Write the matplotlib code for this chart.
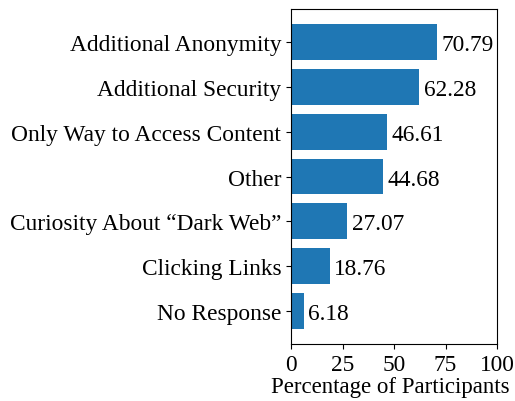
import matplotlib
matplotlib.use("Agg")
import matplotlib.pyplot as plt

plt.rcParams['font.family'] = ['Liberation Serif', 'DejaVu Serif']
plt.rcParams['font.size'] = 16.8

reasons = ["Additional Anonymity", "Additional Security", "Only Way to Access Content",
           "Other", "Curiosity About \u201cDark Web\u201d", "Clicking Links", "No Response"]
percent = [70.79, 62.28, 46.61, 44.68, 27.07, 18.76, 6.18]
xticks = [0, 25, 50, 75, 100]

fig = plt.figure(figsize=(5.15, 4.02), dpi=100)
ax = fig.add_axes([291/515, 1-345/402, 206/515, 335/402])

ypos = list(range(len(reasons)))[::-1]
ax.barh(ypos, percent, height=0.8, color='#1f77b4')
for y, v in zip(ypos, percent):
    ax.text(v + 2.3, y, "%.2f" % v, va='center_baseline', ha='left')

ax.set_yticks(ypos)
ax.set_yticklabels(reasons)
ax.set_xticks(xticks)
ax.set_xlim(0, 100)
ax.set_xlabel("Percentage of Participants", fontsize=16.5)
ax.xaxis.set_label_coords(0.48, -0.095)

plt.savefig("out.png", dpi=100)
